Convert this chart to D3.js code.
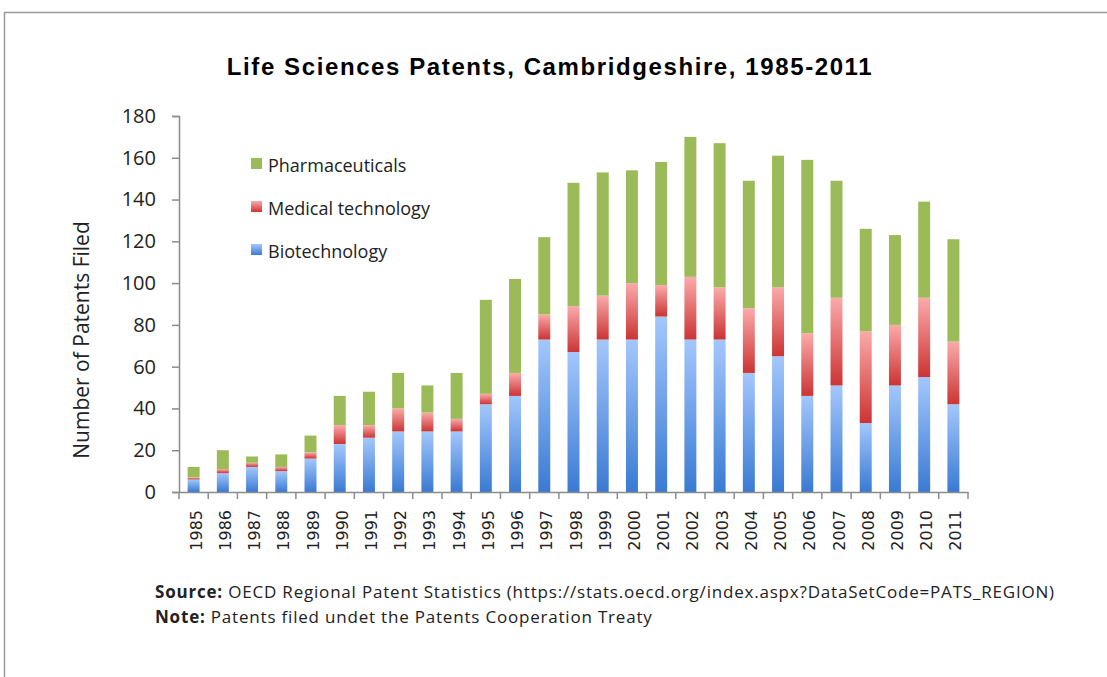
<!DOCTYPE html>
<html>
<head>
<meta charset="utf-8">
<script src="https://cdn.jsdelivr.net/npm/d3@7"></script>
<style>
  body { margin: 0; background: #fff; }
  svg { display: block; }
</style>
</head>
<body>
<svg id="chart" width="1107" height="677"></svg>
<script>
// values
const years = ['1985', '1986', '1987', '1988', '1989', '1990', '1991', '1992', '1993', '1994',
  '1995', '1996', '1997', '1998', '1999', '2000', '2001', '2002', '2003', '2004',
  '2005', '2006', '2007', '2008', '2009', '2010', '2011'];
const biotechnology = [6, 9, 12, 10, 16, 23, 26, 29, 29, 29, 42, 46, 73, 67, 73, 73, 84, 73, 73, 57,
  65, 46, 51, 33, 51, 55, 42];
const medicalTechnology = [1, 2, 2, 2, 3, 9, 6, 11, 9, 6, 5, 11, 12, 22, 21, 27, 15, 30, 25, 31,
  33, 30, 42, 44, 29, 38, 30];
const pharmaceuticals = [5, 9, 3, 6, 8, 14, 16, 17, 13, 22, 45, 45, 37, 59, 59, 54, 59, 67, 69, 61,
  63, 83, 56, 49, 43, 46, 49];
const yTicks = [0, 20, 40, 60, 80, 100, 120, 140, 160, 180];

const seriesKeys = ['bio', 'med', 'pharma'];
const seriesNames = { bio: 'Biotechnology', med: 'Medical technology', pharma: 'Pharmaceuticals' };

const rows = years.map((year, i) => ({
  year,
  bio: biotechnology[i],
  med: medicalTechnology[i],
  pharma: pharmaceuticals[i],
}));

const svg = d3.select('#chart');
const margin = { top: 116, left: 179, right: 139, bottom: 185 };
const width = 1107 - margin.left - margin.right;
const height = 677 - margin.top - margin.bottom;

// outer frame
svg.append('rect')
  .attr('x', 4.5).attr('y', 12.5)
  .attr('width', 1200).attr('height', 1000)
  .attr('fill', 'none')
  .attr('stroke', '#9a9a9a')
  .attr('stroke-width', 1.5);

// gradients, light at the top of each segment and darker at the bottom
const defs = svg.append('defs');
const gradients = {
  bio: ['#a3c7fc', '#3a7ad3'],
  med: ['#fbaaaa', '#cc3434'],
};
Object.keys(gradients).forEach((k) => {
  const lg = defs.append('linearGradient')
    .attr('id', `grad-${k}`)
    .attr('x1', 0).attr('y1', 0).attr('x2', 0).attr('y2', 1);
  lg.append('stop').attr('offset', '0%').attr('stop-color', gradients[k][0]);
  lg.append('stop').attr('offset', '100%').attr('stop-color', gradients[k][1]);
});
const fills = { bio: 'url(#grad-bio)', med: 'url(#grad-med)', pharma: '#9bbb59' };

const g = svg.append('g')
  .attr('transform', `translate(${margin.left},${margin.top})`);

const x = d3.scaleBand()
  .domain(years)
  .range([0, width])
  .paddingInner(0.59)
  .paddingOuter(0.295);
const y = d3.scaleLinear().domain([0, 180]).range([height, 0]);

const stacked = d3.stack().keys(seriesKeys)(rows);

g.selectAll('.series')
  .data(stacked)
  .enter().append('g')
  .attr('class', 'series')
  .attr('fill', d => fills[d.key])
  .selectAll('rect')
  .data(d => d)
  .enter().append('rect')
  .attr('x', d => x(d.data.year))
  .attr('y', d => y(d[1]))
  .attr('width', x.bandwidth())
  .attr('height', d => y(d[0]) - y(d[1]));

// y axis
const yAxis = g.append('g')
  .call(d3.axisLeft(y).tickValues(yTicks).tickSize(7).tickPadding(16));
yAxis.select('.domain').attr('stroke', '#8c8c8c').attr('stroke-width', 1.5);
yAxis.selectAll('.tick line').attr('stroke', '#8c8c8c').attr('stroke-width', 1.5);
yAxis.selectAll('text')
  .attr('fill', '#222')
  .style('font-family', '"Open Sans", sans-serif')
  .style('font-size', '20px');

// x axis: labels under each bar, ticks at the category boundaries
const xAxis = g.append('g')
  .attr('transform', `translate(0,${height})`)
  .call(d3.axisBottom(x).tickSize(0).tickSizeOuter(0));
xAxis.select('.domain').attr('stroke', '#8c8c8c').attr('stroke-width', 1.5);
xAxis.selectAll('text')
  .attr('transform', 'rotate(-90)')
  .attr('x', -18)
  .attr('y', 0)
  .attr('dy', '0.5em')
  .attr('text-anchor', 'end')
  .attr('fill', '#222')
  .style('font-family', '"DejaVu Sans", sans-serif')
  .style('font-size', '16px');

const step = x.step();
xAxis.selectAll('.bound')
  .data(d3.range(years.length + 1))
  .enter().append('line')
  .attr('class', 'bound')
  .attr('x1', i => i * step)
  .attr('x2', i => i * step)
  .attr('y1', 0)
  .attr('y2', 7)
  .attr('stroke', '#8c8c8c')
  .attr('stroke-width', 1.5);

// legend
const legendOrder = ['pharma', 'med', 'bio'];
const legend = svg.append('g').attr('transform', 'translate(251,158)');
legendOrder.forEach((k, i) => {
  const row = legend.append('g').attr('transform', `translate(0,${i * 43})`);
  row.append('rect')
    .attr('width', 11).attr('height', 11)
    .attr('fill', fills[k]);
  row.append('text')
    .attr('x', 17).attr('y', 14)
    .attr('fill', '#222')
    .style('font-family', '"Open Sans", sans-serif')
    .style('font-size', '18px')
    .text(seriesNames[k]);
});

// title
svg.append('text')
  .attr('x', 550).attr('y', 75)
  .attr('text-anchor', 'middle')
  .style('font-family', '"Liberation Sans", Arial, sans-serif')
  .style('font-size', '24px')
  .style('font-weight', 'bold')
  .style('letter-spacing', '1.6px')
  .text('Life Sciences Patents, Cambridgeshire, 1985-2011');

// y axis title
svg.append('text')
  .attr('transform', 'translate(89,340) rotate(-90)')
  .attr('text-anchor', 'middle')
  .attr('fill', '#222')
  .style('font-family', '"Open Sans", sans-serif')
  .style('font-size', '21px')
  .text('Number of Patents Filed');

// source and note
const notes = [
  ['Source:', ' OECD Regional Patent Statistics (https://stats.oecd.org/index.aspx?DataSetCode=PATS_REGION)'],
  ['Note:', ' Patents filed undet the Patents Cooperation Treaty'],
];
notes.forEach((n, i) => {
  const t = svg.append('text')
    .attr('x', 155).attr('y', 598 + i * 25)
    .attr('fill', '#222')
    .style('font-family', '"Open Sans", sans-serif')
    .style('font-size', '17px')
    .style('letter-spacing', '0.8px');
  t.append('tspan').style('font-weight', 'bold').text(n[0]);
  t.append('tspan').text(n[1]);
});
</script>
</body>
</html>
